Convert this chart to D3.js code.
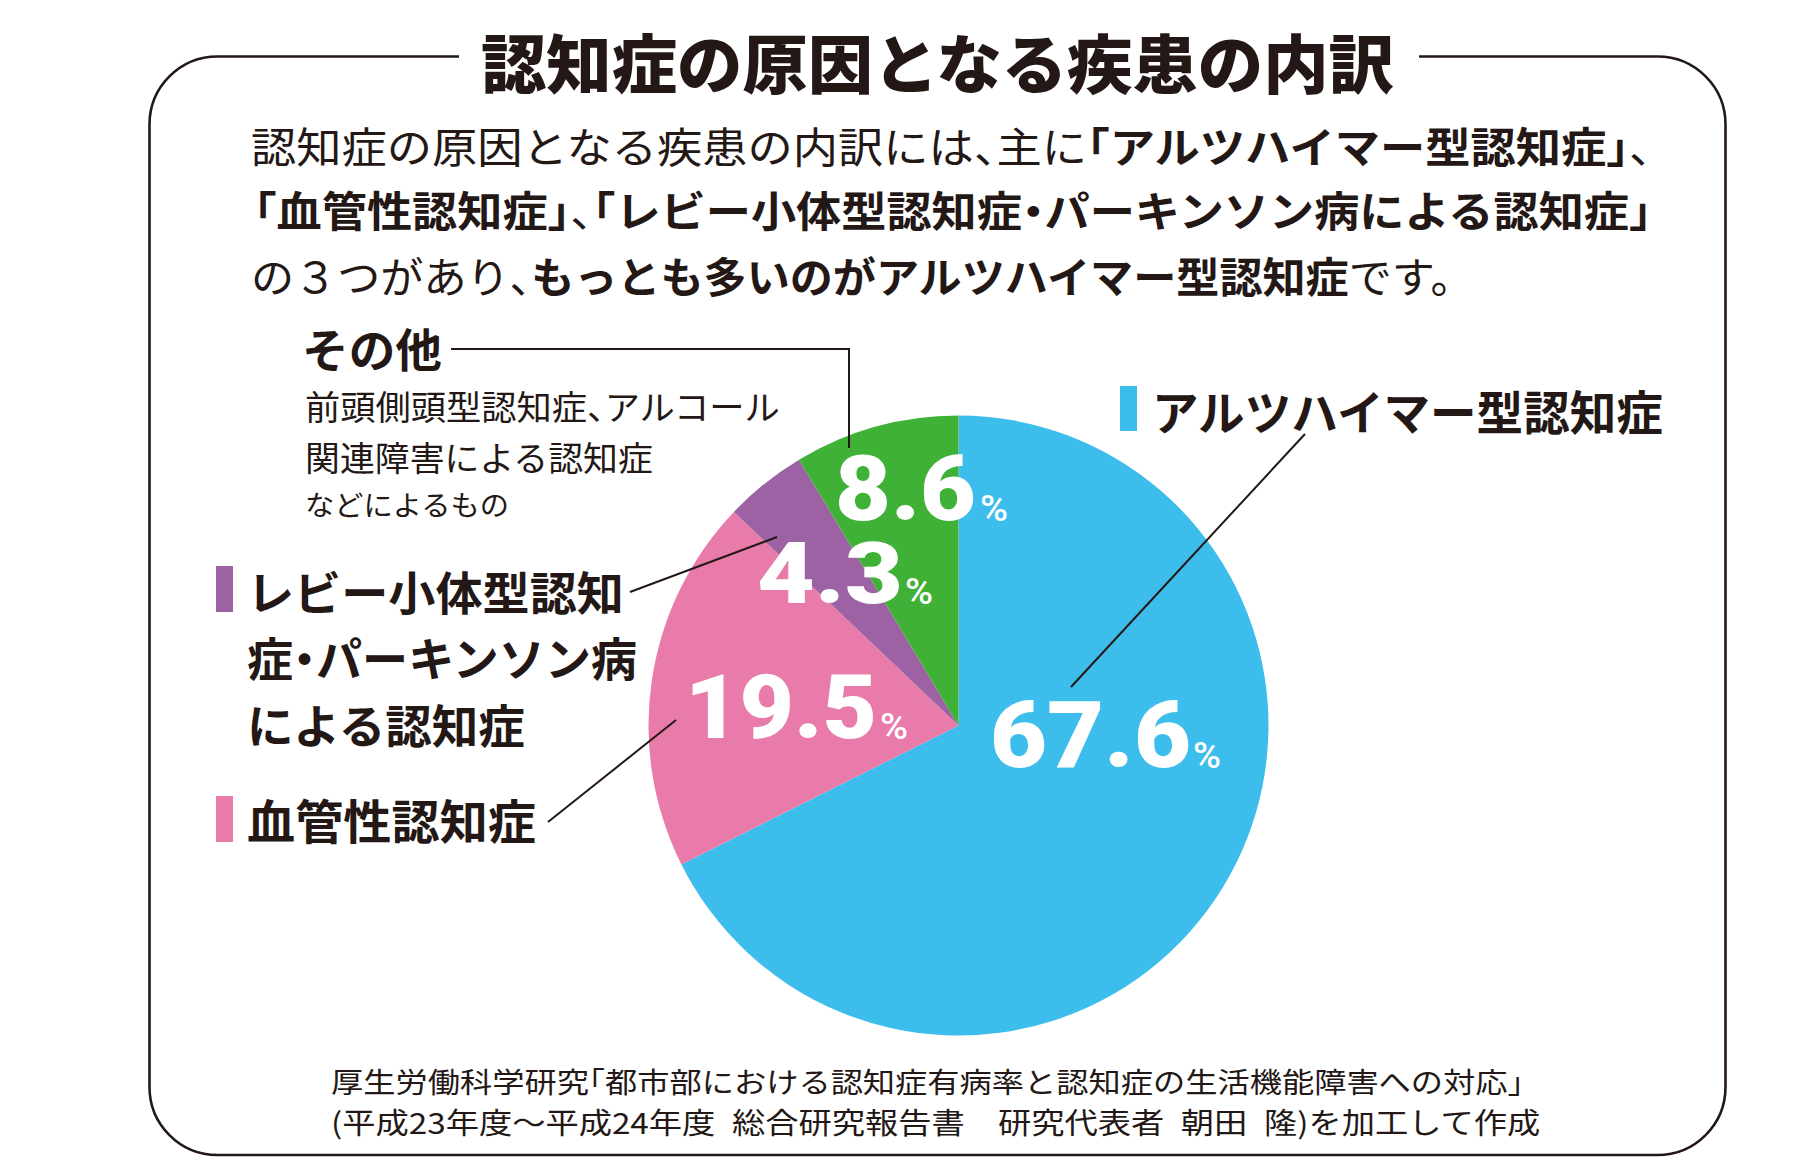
<!DOCTYPE html>
<html><head><meta charset="utf-8">
<script src="https://cdn.jsdelivr.net/npm/d3@7"></script>
<style>
html,body{margin:0;padding:0;background:#fff;}
svg{display:block;}
.jp{font-family:"Noto Sans CJK JP","Noto Sans CJK SC",sans-serif;}
.num{font-family:Roboto,"Liberation Sans",Arial,sans-serif;}
.halt{font-feature-settings:"halt" 1;}
</style></head>
<body>
<svg id="chart" width="1800" height="1176"></svg>
<script>
// ---------- data ----------
const categories = ["アルツハイマー型認知症", "血管性認知症", "レビー小体型認知症・パーキンソン病による認知症", "その他"];
const values = [67.6, 19.5, 4.3, 8.6];
const colors = ["#3dbdec", "#e87ba9", "#9c62a3", "#40b137"];
const valueLabels = ["67.6", "19.5", "4.3", "8.6"];
const titleText = "認知症の原因となる疾患の内訳";
const introLines = [
  [["認知症の原因となる疾患の内訳には、主に", 400], ["「アルツハイマー型認知症」", 700], ["、", 400]],
  [["「血管性認知症」", 700], ["、", 400], ["「レビー小体型認知症・パーキンソン病による認知症」", 700]],
  [["の３つがあり、", 400], ["もっとも多いのがアルツハイマー型認知症", 700], ["です。", 400]]
];
const alzLabel = ["アルツハイマー型認知症"];
const vascLabel = ["血管性認知症"];
const lewyLabel = ["レビー小体型認知", "症・パーキンソン病", "による認知症"];
const otherLabel = ["その他"];
const otherNote = ["前頭側頭型認知症、アルコール", "関連障害による認知症", "などによるもの"];
const sourceLines = [
  "厚生労働科学研究「都市部における認知症有病率と認知症の生活機能障害への対応」",
  "(平成23年度～平成24年度\u2002総合研究報告書\u3000研究代表者\u2002朝田\u2002隆)を加工して作成"
];

// ---------- drawing ----------
const svg = d3.select("#chart");
const ink = "#231815";
const PUNCT = /([、「」・])/;

// helper: draw text with left x, centre/baseline y, fitted to width
function fitText(parent, parts, x, y, width, size, cls, opts = {}) {
  const t = parent.append("text")
    .attr("class", cls)
    .attr("x", 0).attr("y", 0)
    .attr("font-size", size)
    .attr("fill", opts.fill || ink)
    .attr("dominant-baseline", opts.baseline || "central");
  parts.forEach(p => {
    const pieces = opts.halt ? p[0].split(PUNCT).filter(s => s.length) : [p[0]];
    pieces.forEach(s => {
      const ts = t.append("tspan").text(s).attr("font-weight", p[1]);
      if (opts.halt && PUNCT.test(s)) ts.attr("class", "halt");
    });
  });
  const w = t.node().getComputedTextLength();
  const s = width / w;
  t.attr("transform", `translate(${x},${y}) scale(${s},1)`);
  return t;
}

// rounded frame
const fx0 = 149.5, fy0 = 56.5, fx1 = 1725.5, fy1 = 1155, fr = 68;
svg.append("rect")
  .attr("x", fx0).attr("y", fy0)
  .attr("width", fx1 - fx0).attr("height", fy1 - fy0)
  .attr("rx", fr).attr("ry", fr)
  .attr("fill", "none").attr("stroke", ink).attr("stroke-width", 2.6);
// gap for title
svg.append("rect").attr("x", 459).attr("y", 48).attr("width", 1419 - 459).attr("height", 18).attr("fill", "#fff");

// title
fitText(svg, [[titleText, 900]], 481, 60, 913, 64, "jp");

// intro paragraph
const introGeom = [
  {x: 251, y: 145, w: 1401},
  {x: 254, y: 209, w: 1398},
  {x: 251, y: 274, w: 1223}
];
introLines.forEach((ln, i) => fitText(svg, ln, introGeom[i].x, introGeom[i].y, introGeom[i].w, 42, "jp", {halt: true}));

// pie
const cx = 958.5, cy = 725.5, R = 310;
const pie = d3.pie().sort(null).value(d => d).startAngle(0).endAngle(2 * Math.PI);
const arc = d3.arc().innerRadius(0).outerRadius(R);
const g = svg.append("g").attr("transform", `translate(${cx},${cy})`);
g.selectAll("path").data(pie(values)).join("path")
  .attr("d", arc)
  .attr("fill", (d, i) => colors[i]);

// leader lines
const leaders = [
  [[1305, 434], [1071, 687]],
  [[548, 822], [676, 720]],
  [[630, 592], [777, 537]],
  [[451, 349], [849, 349], [849, 448]]
];
const line = d3.line();
svg.selectAll("path.leader").data(leaders).join("path")
  .attr("class", "leader")
  .attr("d", d => line(d))
  .attr("fill", "none").attr("stroke", ink).attr("stroke-width", 2);

// value labels
const valGeom = [
  {x: 990, y: 767, w: 201, s: 93, px: 1193, pw: 28},
  {x: 685, y: 738, w: 192, s: 89, px: 880, pw: 28},
  {x: 757, y: 603, w: 146, s: 86, px: 905, pw: 28},
  {x: 835, y: 520, w: 141, s: 91, px: 980, pw: 28}
];
valueLabels.forEach((v, i) => {
  const gm = valGeom[i];
  fitText(svg, [[v, 900]], gm.x, gm.y, gm.w, gm.s, "num", {fill: "#fff", baseline: "alphabetic"});
  fitText(svg, [["%", 500]], gm.px, gm.y + 1, gm.pw, 37, "num", {fill: "#fff", baseline: "alphabetic"});
});

// category markers
const markers = [
  {x: 1120, y: 386, h: 45, c: colors[0]},
  {x: 216, y: 796, h: 46, c: colors[1]},
  {x: 216, y: 566, h: 46, c: colors[2]}
];
svg.selectAll("rect.mk").data(markers).join("rect")
  .attr("class", "mk")
  .attr("x", d => d.x).attr("y", d => d.y)
  .attr("width", 17).attr("height", d => d.h)
  .attr("fill", d => d.c);

// category labels
fitText(svg, [[alzLabel[0], 700]], 1152, 409, 511, 47, "jp");
fitText(svg, [[vascLabel[0], 700]], 247, 818, 289, 47, "jp");
const lewyGeom = [{y: 589, w: 377}, {y: 656, w: 390}, {y: 722, w: 278}];
lewyLabel.forEach((t, i) => fitText(svg, [[t, 700]], 247, lewyGeom[i].y, lewyGeom[i].w, 46, "jp", {halt: true}));
fitText(svg, [[otherLabel[0], 700]], 302, 346, 140, 46, "jp");
const noteGeom = [{y: 405, w: 475, s: 34}, {y: 456, w: 348, s: 34}, {y: 503, w: 204, s: 28}];
otherNote.forEach((t, i) => fitText(svg, [[t, 400]], 305, noteGeom[i].y, noteGeom[i].w, noteGeom[i].s, "jp", {halt: true}));

// source
const srcGeom = [{x: 331, y: 1080, w: 1193}, {x: 331, y: 1121, w: 1210}];
sourceLines.forEach((t, i) => fitText(svg, [[t, 400]], srcGeom[i].x, srcGeom[i].y, srcGeom[i].w, 29, "jp", {halt: true}));
</script>
</body></html>
